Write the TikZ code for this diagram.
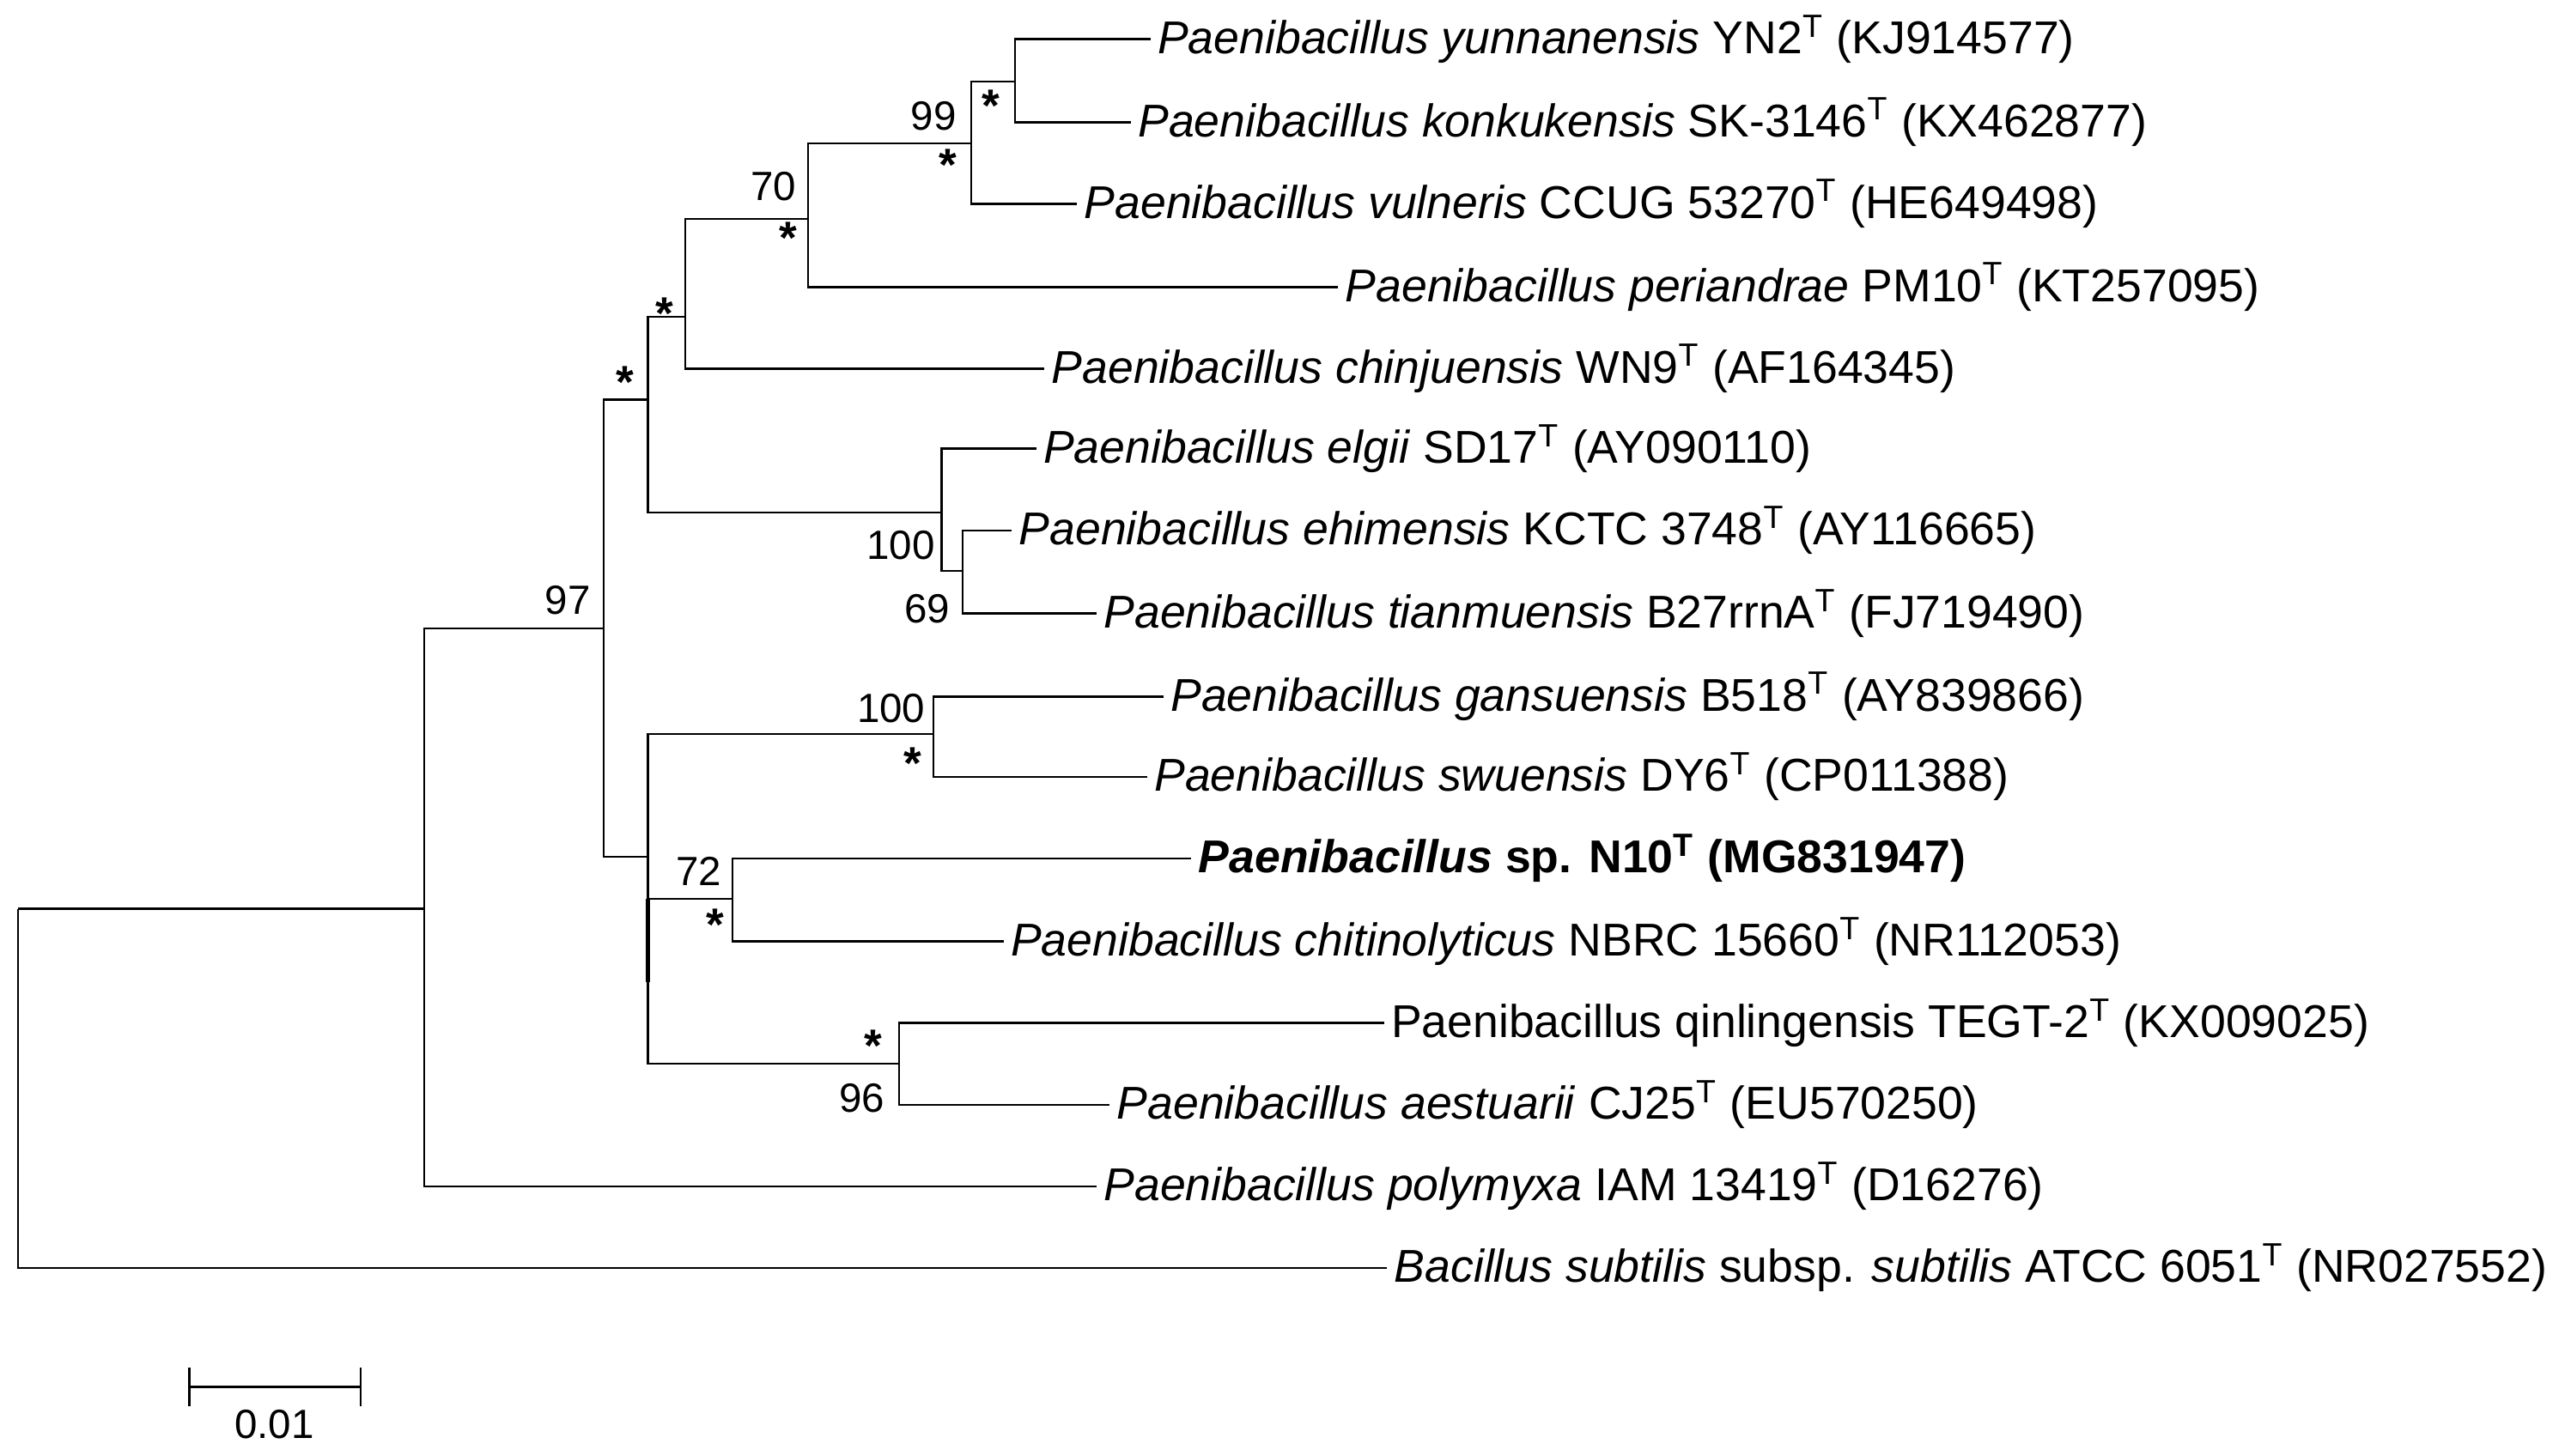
\documentclass[tikz,border=0pt]{standalone}
\usepackage{fontspec}
\setmainfont{Liberation Sans}
\begin{document}
\begin{tikzpicture}[x=0.5pt,y=-0.5pt,
  br/.style={line width=0.6pt},
  lf/.style={anchor=west,inner sep=2pt,font=\fontsize{14.1}{16}\selectfont},
  bs/.style={font=\fontsize{12.5}{14}\selectfont,inner sep=0pt},
  st/.style={font=\fontsize{14}{14}\selectfont\bfseries,inner sep=0pt}]
\useasboundingbox (0,0) rectangle (1568,892);
% internal nodes
\coordinate (r) at (11,557);
\coordinate (n1) at (260,557);
\coordinate (n2) at (370,385);
\coordinate (n3) at (397,245);
\coordinate (n4) at (420,194);
\coordinate (n5) at (495,134);
\coordinate (n6) at (595,88);
\coordinate (n7) at (622,50);
\coordinate (n8) at (577,314);
\coordinate (n9) at (590,350);
\coordinate (m) at (397,525);
\coordinate (m1) at (572,450);
\coordinate (m2) at (449,551);
\coordinate (m3) at (551,652);
% leaves
\coordinate (l1) at (705,24);
\coordinate (l2) at (693,75);
\coordinate (l3) at (660,125);
\coordinate (l4) at (820,176);
\coordinate (l5) at (640,226);
\coordinate (l6) at (635,275);
\coordinate (l7) at (620,325);
\coordinate (l8) at (672,376);
\coordinate (l9) at (713,427);
\coordinate (l10) at (703,476);
\coordinate (l11) at (730,526);
\coordinate (l12) at (615,577);
\coordinate (l13) at (848,627);
\coordinate (l14) at (680,677);
\coordinate (l15) at (672,727);
\coordinate (l16) at (850,777);
% branches
\draw[br] (r) |- (n1); \draw[br] (r) |- (l16);
\draw[br] (n1) |- (n2); \draw[br] (n1) |- (l15);
\draw[br] (n2) |- (n3); \draw[br] (n2) |- (m);
\draw[br] (n3) |- (n4); \draw[br] (n3) |- (n8);
\draw[br] (n4) |- (n5); \draw[br] (n4) |- (l5);
\draw[br] (n5) |- (n6); \draw[br] (n5) |- (l4);
\draw[br] (n6) |- (n7); \draw[br] (n6) |- (l3);
\draw[br] (n7) |- (l1); \draw[br] (n7) |- (l2);
\draw[br] (n8) |- (l6); \draw[br] (n8) |- (n9);
\draw[br] (n9) |- (l7); \draw[br] (n9) |- (l8);
\draw[br] (m) |- (m1); \draw[br] (m) |- (m2); \draw[br] (m) |- (m3);
\draw[line width=1.4pt] (397,551) -- (397,602);
\draw[br] (m1) |- (l9); \draw[br] (m1) |- (l10);
\draw[br] (m2) |- (l11); \draw[br] (m2) |- (l12);
\draw[br] (m3) |- (l13); \draw[br] (m3) |- (l14);
% leaf labels
\node[lf] (t1) at (l1) {\textit{Paenibacillus yunnanensis} YN2\textsuperscript{T} (KJ914577)};
\node[lf] (t2) at (l2) {\textit{Paenibacillus konkukensis} SK-3146\textsuperscript{T} (KX462877)};
\node[lf] (t3) at (l3) {\textit{Paenibacillus vulneris} CCUG 53270\textsuperscript{T} (HE649498)};
\node[lf] (t4) at (l4) {\textit{Paenibacillus periandrae} PM10\textsuperscript{T} (KT257095)};
\node[lf] (t5) at (l5) {\textit{Paenibacillus chinjuensis} WN9\textsuperscript{T} (AF164345)};
\node[lf] (t6) at (l6) {\textit{Paenibacillus elgii} SD17\textsuperscript{T} (AY090110)};
\node[lf] (t7) at (l7) {\textit{Paenibacillus ehimensis} KCTC 3748\textsuperscript{T} (AY116665)};
\node[lf] (t8) at (l8) {\textit{Paenibacillus tianmuensis} B27rrnA\textsuperscript{T} (FJ719490)};
\node[lf] (t9) at (l9) {\textit{Paenibacillus gansuensis} B518\textsuperscript{T} (AY839866)};
\node[lf] (t10) at (l10) {\textit{Paenibacillus swuensis} DY6\textsuperscript{T} (CP011388)};
\node[lf] (t11) at (l11) {\bfseries\textit{Paenibacillus} sp. N10\textsuperscript{T} (MG831947)};
\node[lf] (t12) at (l12) {\textit{Paenibacillus chitinolyticus} NBRC 15660\textsuperscript{T} (NR112053)};
\node[lf] (t13) at (l13) {Paenibacillus qinlingensis TEGT-2\textsuperscript{T} (KX009025)};
\node[lf] (t14) at (l14) {\textit{Paenibacillus aestuarii} CJ25\textsuperscript{T} (EU570250)};
\node[lf] (t15) at (l15) {\textit{Paenibacillus polymyxa} IAM 13419\textsuperscript{T} (D16276)};
\node[lf] (t16) at (l16) {\textit{Bacillus subtilis} subsp. \textit{subtilis} ATCC 6051\textsuperscript{T} (NR027552)};
% support values
\node[bs] (b1) at (348,368) {97};
\node[st] (s1) at (383,234) {*};
\node[st] (s2) at (407,192) {*};
\node[bs] (b2) at (474,114) {70};
\node[st] (s3) at (483,146) {*};
\node[bs] (b3) at (572,71) {99};
\node[st] (s4) at (581,101) {*};
\node[st] (s5) at (607,65) {*};
\node[bs] (b4) at (552,334) {100};
\node[bs] (b5) at (568,373) {69};
\node[bs] (b6) at (546,434) {100};
\node[st] (s6) at (559,468) {*};
\node[bs] (b7) at (428,534) {72};
\node[st] (s7) at (438,567) {*};
\node[st] (s8) at (535,641) {*};
\node[bs] (b8) at (528,673) {96};
% scale bar
\coordinate (sa) at (116,850); \coordinate (sb) at (221,850);
\draw[br] (sa) -- (sb);
\draw[br] ([yshift=-6]sa) -- ([yshift=6]sa);
\draw[br] ([yshift=-6]sb) -- ([yshift=6]sb);
\node[bs] (sl) at (168,873) {0.01};
\end{tikzpicture}
\end{document}
